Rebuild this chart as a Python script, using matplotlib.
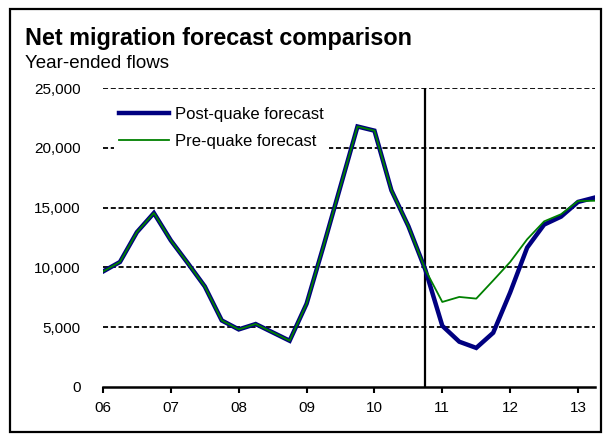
import matplotlib.pyplot as plt
import matplotlib.patches as mpatches
import numpy as np
import pandas as pd

plt.rcParams["font.family"] = ["Liberation Sans", "DejaVu Sans"]

# Quarterly year-ended net migration, 2006Q1 - 2013Q2
quarters = pd.period_range("2006Q1", "2013Q2", freq="Q")
post_quake = [
    9650, 10450, 12950, 14550, 12250, 10350, 8400, 5550, 4800, 5250,
    4550, 3850, 6950, 11800, 16800, 21800, 21450, 16450, 13450, 9800,
    5100, 3770, 3250, 4520, 7900, 11650, 13580, 14250, 15480, 15850,
]
pre_quake = [
    9650, 10450, 12950, 14550, 12250, 10350, 8400, 5550, 4800, 5250,
    4550, 3850, 6950, 11800, 16800, 21800, 21450, 16450, 13450, 9800,
    7100, 7520, 7380, 8900, 10450, 12350, 13850, 14450, 15550, 15580,
]
year_ticks = list(range(2006, 2014))
year_labels = [f"{y % 100:02d}" for y in year_ticks]
y_ticks = [0, 5000, 10000, 15000, 20000, 25000]
quake_date = 2010.75

x = np.array([q.year + (q.quarter - 1) / 4 for q in quarters])

fig = plt.figure(figsize=(6.1, 4.4), dpi=100)
ax = fig.add_axes([103 / 610, 1 - 386.7 / 440, 492 / 610, 298.4 / 440])

ax.set_xlim(2006, x[-1])
ax.set_ylim(0, 25000)

# dashed horizontal gridlines
for yv in y_ticks[1:]:
    ax.axhline(yv, color="black", lw=1.3, dashes=(2.8, 1.5), zorder=1)

ax.axvline(quake_date, color="black", lw=1.6, zorder=2)

ax.plot(x, post_quake, color="#000080", lw=3.2, solid_joinstyle="miter",
        label="Post-quake forecast", zorder=3)
ax.plot(x, pre_quake, color="#008000", lw=1.3,
        label="Pre-quake forecast", zorder=4)

for side in ["top", "right", "left"]:
    ax.spines[side].set_visible(False)
ax.spines["bottom"].set_linewidth(1.8)
ax.spines["bottom"].set_zorder(5)

ax.set_xticks(year_ticks)
ax.set_xticklabels(year_labels, fontsize=11)
ax.tick_params(axis="x", direction="out", length=4, width=1.5, pad=6)
ax.set_yticks(y_ticks)
ax.set_yticklabels([f"{v:,}" for v in y_ticks], fontsize=11)
ax.tick_params(axis="y", length=0, pad=16)

leg = ax.legend(loc="upper left", bbox_to_anchor=(114 / 610, 1 - 102 / 440),
                bbox_transform=fig.transFigure, frameon=True, fontsize=12,
                handlelength=3.0, handletextpad=0.35, labelspacing=0.72,
                borderpad=0.3, borderaxespad=0)
leg.get_frame().set_facecolor("white")
leg.get_frame().set_edgecolor("none")
leg.get_frame().set_alpha(1)
leg.set_zorder(6)

fig.text(25 / 610, 1 - 45 / 440, "Net migration forecast comparison",
         fontsize=16.8, fontweight="bold", va="baseline")
fig.text(25 / 610, 1 - 68 / 440, "Year-ended flows", fontsize=13.5,
         va="baseline")

# outer frame round the whole chart
fig.patches.append(mpatches.Rectangle(
    (9.5 / 610, 8 / 440), 591.5 / 610, 423 / 440, transform=fig.transFigure,
    fill=False, edgecolor="black", lw=1.6))

fig.savefig("out.png", dpi=100)
